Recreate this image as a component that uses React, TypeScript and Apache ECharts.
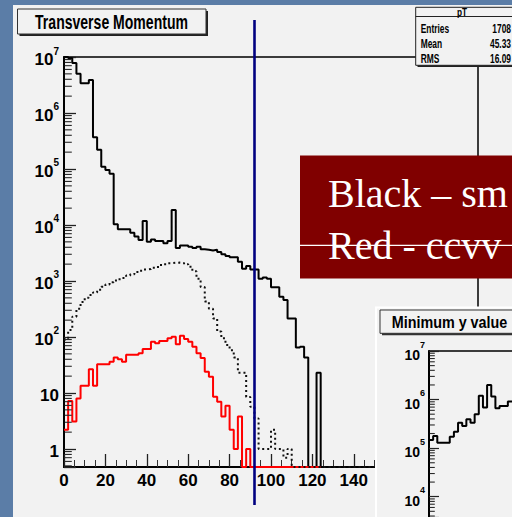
import React, { useEffect, useRef } from 'react';
import * as echarts from 'echarts';

// ---- data ----
const BIN_W = 2; // bin width in GeV
const blackSolid = [
  1.0e7, 9.6e6, 7.8e6, 5.0e6, 3.4e6, 3.4e6, 3.9e6, 3.7e5, 2.2e5, 1.1e5,
  9.6e4, 8.2e4, 1.03e4, 8.4e3, 8.4e3, 8.4e3, 7.3e3, 6.2e3, 5.4e3, 1.18e4,
  5.0e3, 5.5e3, 5.2e3, 5.2e3, 4.7e3, 5.2e3, 1.85e4, 3.9e3, 4.3e3, 4.3e3,
  4.1e3, 3.9e3, 4.1e3, 3.7e3, 3.6e3, 3.5e3, 3.6e3, 3.3e3, 3.0e3, 2.8e3,
  2.65e3, 2.65e3, 2.2e3, 1.66e3, 1.85e3, 1.6e3, 1.6e3, 1.1e3, 1.15e3, 1.1e3,
  770, 770, 525, 458, 215, 215, 65, 67, 43, 0,
  0, 23, 0, 0, 0, 0, 0, 0, 0, 0,
  0, 0, 0, 0, 0,
];
const blackDotted = [
  90, 133, 231, 320, 420, 500, 560, 620, 700, 790,
  870, 950, 1020, 1080, 1130, 1250, 1320, 1450, 1530, 1600,
  1640, 1720, 1780, 1930, 2000, 2070, 2120, 2130, 2100, 2000,
  1800, 1500, 1100, 780, 430, 320, 215, 125, 95, 72,
  58, 43, 23, 23, 8.5, 5.7, 3.5, 1.0, 1.0, 1.0,
  2.2, 1.0, 1.0, 0.7, 1.0, 0, 0, 0, 0, 0,
  0, 0, 0, 0, 0, 0, 0, 0, 0, 0,
  0, 0, 0, 0, 0,
];
const redHist = [
  2.2, 7.2, 3.1, 8.0, 13.5, 13.5, 26.5, 13.5, 32.5, 32.5,
  32.5, 36, 43, 40, 36, 48, 48, 48, 51, 61,
  61, 82, 77, 85, 85, 95, 101, 74, 105, 92,
  82, 67, 51, 42, 24, 19.5, 8.6, 7.0, 3.8, 5.9,
  2.2, 1.0, 3.8, 0, 1.0, 0, 0, 0, 0, 0,
  0, 0, 0, 0, 0, 0, 0, 0, 0, 0,
  0, 0,
];
const minYHist = [
  1.47e5, 1.78e5, 1.29e5, 1.29e5, 1.29e5, 1.72e5, 2.18e5, 3.34e5, 2.86e5, 3.92e5,
  3.34e5, 4.97e5, 1.2e6, 6.9e5, 2.0e6, 1.15e6, 6.6e5, 7.4e5, 7.4e5, 9.1e5, 9.1e5,
];
const xTickLabels = [0, 20, 40, 60, 80, 100, 120, 140];
const yExponents = [0, 1, 2, 3, 4, 5, 6, 7];
const minYExponents = [4, 5, 6, 7];
const logMinorMantissas = [2, 3, 4, 5, 6, 7, 8, 9];
const statsRows = [
  ['Entries', '1708'],
  ['Mean', '45.33'],
  ['RMS', '16.09'],
];
const slideLines = ['Black \u2013 sm', 'Red - ccvv'];

const Y_MIN = 0.477;
const Y_MAX = 1e7;
const Y2_MIN = 3820;
const Y2_MAX = 1e7;
const X2_MAX = 40;

const NARROW = '"Liberation Sans Narrow", "Arial Narrow", "Liberation Sans", Arial, sans-serif';
const SANS = '"Liberation Sans", Arial, Helvetica, sans-serif';
const SERIF = '"Liberation Serif", "Times New Roman", serif';

function histPoints(values: number[], w: number, floor: number) {
  const pts = values.map((v, i) => [i * w, Math.max(v, floor)]);
  pts.push([values.length * w, Math.max(values[values.length - 1], floor)]);
  return pts;
}

function powLabel(exps: number[]) {
  return (v: number) => {
    const l = Math.log10(v);
    const e = Math.round(l);
    if (Math.abs(l - e) > 1e-6 || exps.indexOf(e) < 0) return '';
    if (e === 0) return '{n|1}';
    if (e === 1) return '{n|10}';
    return '{n|10}{s|' + e + '}';
  };
}

// minor log ticks (2..9 x 10^n) inside [lo, hi]
function minorTickValues(lo: number, hi: number) {
  const out: number[][] = [];
  for (let e = Math.floor(Math.log10(lo)); e <= Math.ceil(Math.log10(hi)); e++) {
    logMinorMantissas.forEach((m) => {
      const v = m * Math.pow(10, e);
      if (v > lo && v < hi) out.push([0, v]);
    });
  }
  return out;
}

function tickSeries(xIdx: number, yIdx: number, lo: number, hi: number, len: number, z: number) {
  return {
    name: 'minorTicks' + yIdx,
    type: 'scatter', xAxisIndex: xIdx, yAxisIndex: yIdx, silent: true, z, clip: false,
    data: minorTickValues(lo, hi),
    symbol: 'rect', symbolSize: [len, 1.1], symbolOffset: [len / 2 + 0.8, 0],
    itemStyle: { color: '#2a2a2a', opacity: 1 },
    emphasis: { disabled: true },
  };
}

function buildOption() {
  const graphics: any[] = [
    { type: 'rect', z: -10, silent: true, shape: { x: 13, y: 5, width: 499, height: 512 }, style: { fill: '#f2f2f2' } },
    { type: 'line', z: 45, silent: true, shape: { x1: 254.5, y1: 20, x2: 254.5, y2: 505 }, style: { stroke: '#000080', lineWidth: 2.6 } },
    { type: 'rect', z: 80, silent: true, shape: { x: 19.5, y: 11, width: 188.5, height: 25 }, style: { fill: '#222' } },
    { type: 'rect', z: 81, silent: true, shape: { x: 17.5, y: 9, width: 188.5, height: 25 }, style: { fill: '#f2f2f2', stroke: '#333', lineWidth: 1 } },
    { type: 'text', z: 82, silent: true, x: 111.5, y: 22.5, scaleX: 0.72,
      style: { text: 'Transverse Momentum', fill: '#000', font: 'bold 19.5px ' + SANS, align: 'center', verticalAlign: 'middle' } },
    { type: 'rect', z: 80, silent: true, shape: { x: 417.5, y: 9, width: 100, height: 58 }, style: { fill: '#222' } },
    { type: 'rect', z: 81, silent: true, shape: { x: 415.7, y: 7.3, width: 100, height: 58 }, style: { fill: '#f2f2f2', stroke: '#222', lineWidth: 1 } },
    { type: 'line', z: 82, silent: true, shape: { x1: 415.7, y1: 16.5, x2: 515, y2: 16.5 }, style: { stroke: '#222', lineWidth: 1 } },
    { type: 'text', z: 82, silent: true, x: 462, y: 12, scaleX: 0.75,
      style: { text: 'pT', fill: '#000', font: 'bold 11px ' + SANS, align: 'center', verticalAlign: 'middle' } },
    { type: 'rect', z: 50, silent: true, shape: { x: 376, y: 307.5, width: 140, height: 215 }, style: { fill: '#f2f2f2', stroke: '#ffffff', lineWidth: 2 } },
    { type: 'rect', z: 70, silent: true, shape: { x: 382, y: 312, width: 140, height: 23.3 }, style: { fill: '#333' } },
    { type: 'rect', z: 71, silent: true, shape: { x: 380, y: 310, width: 140, height: 23.3 }, style: { fill: '#f2f2f2', stroke: '#333', lineWidth: 1 } },
    { type: 'text', z: 72, silent: true, x: 391.7, y: 322, scaleX: 0.87,
      style: { text: 'Minimum y value', fill: '#000', font: 'bold 16.5px ' + SANS, align: 'left', verticalAlign: 'middle' } },
    { type: 'rect', z: 85, silent: true, shape: { x: 300, y: 155.5, width: 215, height: 123 }, style: { fill: '#800000' } },
    { type: 'line', z: 87, silent: true, shape: { x1: 300, y1: 245.3, x2: 515, y2: 245.3 }, style: { stroke: '#ffffff', lineWidth: 1.2 } },
  ];
  statsRows.forEach((r, i) => {
    const y = 29 + i * 15;
    graphics.push({ type: 'text', z: 82, silent: true, x: 420.7, y, scaleX: 0.7,
      style: { text: r[0], fill: '#000', font: 'bold 12px ' + SANS, align: 'left', verticalAlign: 'middle' } });
    graphics.push({ type: 'text', z: 82, silent: true, x: 511, y, scaleX: 0.7,
      style: { text: r[1], fill: '#000', font: 'bold 12px ' + SANS, align: 'right', verticalAlign: 'middle' } });
  });
  slideLines.forEach((t, i) => {
    graphics.push({ type: 'text', z: 86, silent: true, x: 328, y: 193 + i * 52,
      style: { text: t, fill: '#ffffff', font: '40px ' + SERIF, align: 'left', verticalAlign: 'middle' } });
  });

  const mainRich = {
    n: { fontFamily: NARROW, fontWeight: 'bold', fontSize: 17, lineHeight: 22, color: '#000', verticalAlign: 'bottom' },
    s: { fontFamily: NARROW, fontWeight: 'bold', fontSize: 10, lineHeight: 11, color: '#000', verticalAlign: 'top' },
  };
  const subRich = {
    n: { fontFamily: SANS, fontWeight: 'bold', fontSize: 14, lineHeight: 22, color: '#000', verticalAlign: 'bottom' },
    s: { fontFamily: SANS, fontWeight: 'bold', fontSize: 9, lineHeight: 10, color: '#000', verticalAlign: 'top' },
  };

  return {
    animation: false,
    backgroundColor: '#5b7da7',
    textStyle: { fontFamily: SANS },
    grid: [
      { left: 64, top: 57, width: 414, height: 410, show: true, borderColor: '#000', borderWidth: 1.5, backgroundColor: 'transparent', z: 0 },
      { left: 429, top: 351, width: 83, height: 166, show: false, z: 60 },
    ],
    xAxis: [
      {
        type: 'value', gridIndex: 0, min: 0, max: 200, interval: 20, position: 'bottom',
        axisLine: { show: true, lineStyle: { color: '#000', width: 2 } },
        axisTick: { show: true, inside: true, length: 13, lineStyle: { color: '#222', width: 1.3 } },
        minorTick: { show: true, splitNumber: 4, length: 7, lineStyle: { color: '#333', width: 1 } },
        splitLine: { show: false }, minorSplitLine: { show: false },
        axisLabel: {
          margin: 5, color: '#000', fontFamily: NARROW, fontWeight: 'bold', fontSize: 17,
          formatter: (v: number) => (xTickLabels.indexOf(v) >= 0 ? String(v) : ''),
        },
      },
      {
        type: 'value', gridIndex: 1, min: 0, max: X2_MAX, position: 'top', z: 61,
        axisLine: { show: true, lineStyle: { color: '#000', width: 1.5 } },
        axisTick: { show: false }, axisLabel: { show: false }, splitLine: { show: false },
      },
    ],
    yAxis: [
      {
        type: 'log', logBase: 10, gridIndex: 0, min: Y_MIN, max: Y_MAX,
        axisLine: { show: true, lineStyle: { color: '#000', width: 2 } },
        axisTick: { show: true, inside: true, length: 12, lineStyle: { color: '#222', width: 1.3 } },
        splitLine: { show: false },
        axisLabel: { margin: 5, formatter: powLabel(yExponents), rich: mainRich },
      },
      {
        type: 'log', logBase: 10, gridIndex: 1, min: Y2_MIN, max: Y2_MAX, z: 61,
        axisLine: { show: true, lineStyle: { color: '#000', width: 2 } },
        axisTick: { show: true, inside: true, length: 10, lineStyle: { color: '#222', width: 1.2 } },
        splitLine: { show: false },
        axisLabel: { margin: 4, formatter: powLabel(minYExponents), rich: subRich },
      },
    ],
    series: [
      {
        name: 'sm', type: 'line', xAxisIndex: 0, yAxisIndex: 0, step: 'end', symbol: 'none', silent: true, z: 2,
        data: histPoints(blackSolid, BIN_W, Y_MIN), lineStyle: { color: '#000', width: 2 },
      },
      {
        name: 'ccvv', type: 'line', xAxisIndex: 0, yAxisIndex: 0, step: 'end', symbol: 'none', silent: true, z: 3,
        data: histPoints(redHist, BIN_W, Y_MIN), lineStyle: { color: '#ff0000', width: 2 },
      },
      {
        name: 'dotted', type: 'line', xAxisIndex: 0, yAxisIndex: 0, step: 'end', symbol: 'none', silent: true, z: 4,
        data: histPoints(blackDotted, BIN_W, Y_MIN), lineStyle: { color: '#111', width: 2, type: [2, 3] },
      },
      tickSeries(0, 0, Y_MIN, Y_MAX, 7, 5),
      {
        name: 'minY', type: 'line', xAxisIndex: 1, yAxisIndex: 1, step: 'end', symbol: 'none', silent: true, z: 62,
        data: histPoints(minYHist, BIN_W, Y2_MIN), lineStyle: { color: '#000', width: 2 },
      },
      tickSeries(1, 1, Y2_MIN, Y2_MAX, 5, 63),
    ],
    graphic: graphics,
  };
}

export default function App() {
  const ref = useRef<HTMLDivElement>(null);
  useEffect(() => {
    if (!ref.current) return;
    const chart = echarts.init(ref.current, null, { renderer: 'svg' });
    chart.setOption(buildOption() as any);
    return () => chart.dispose();
  }, []);
  return <div ref={ref} style={{ position: 'fixed', left: 0, top: 0, width: 512, height: 517 }} />;
}
